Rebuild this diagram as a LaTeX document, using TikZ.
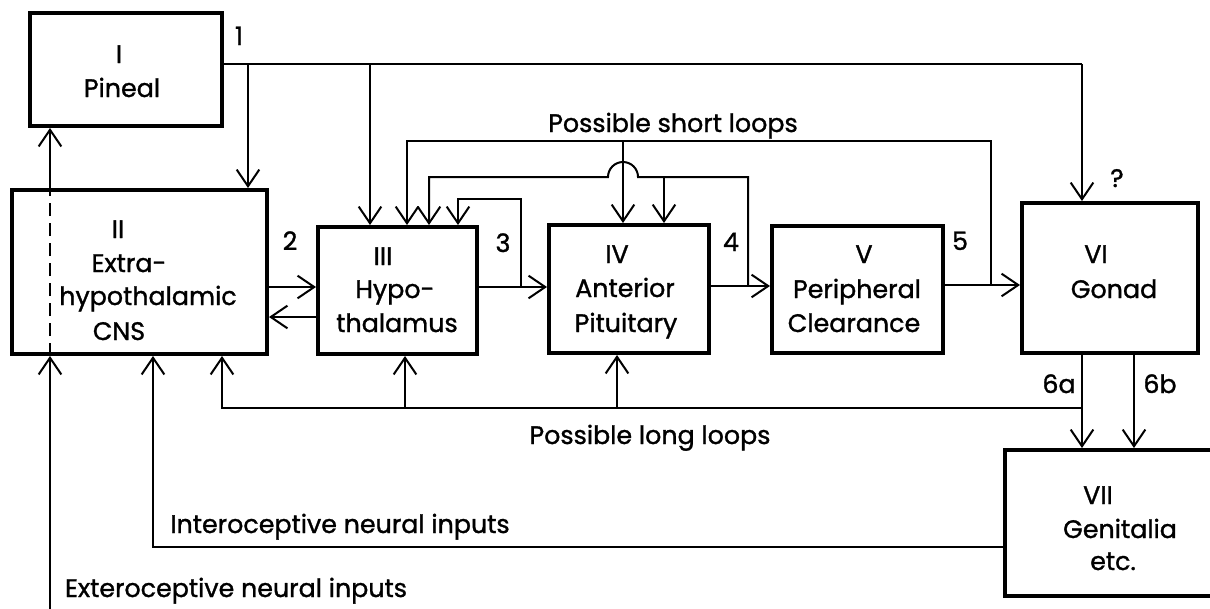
\documentclass[tikz,border=0pt]{standalone}
\usepackage{fontspec}
\setmainfont{Poppins}[FakeBold=1.2]
\usetikzlibrary{arrows.meta}
\begin{document}
\begin{tikzpicture}[x=0.75pt,y=-0.75pt,
  box/.style={draw, line width=3pt, inner sep=0pt},
  conn/.style={line width=1.5pt},
  arr/.style={conn, -{Straight Barb[length=12.5pt,width=17pt]}},
  lbl/.style={font=\fontsize{19}{21}\selectfont, inner sep=0pt, anchor=base}]
\useasboundingbox (0,0) rectangle (1210,608);
\clip (0,0) rectangle (1210,608);
% boxes
\node[box, minimum width=144pt, minimum height=84.75pt] (P) at (126,69.5) {};
\node[box, minimum width=191.25pt, minimum height=123pt] (II) at (139.5,272) {};
\node[box, minimum width=119.25pt, minimum height=95.25pt] (III) at (397.5,290.5) {};
\node[box, minimum width=120pt, minimum height=96pt] (IV) at (629,289) {};
\node[box, minimum width=128.25pt, minimum height=95.25pt] (V) at (857.5,289.5) {};
\node[box, minimum width=132pt, minimum height=112.5pt] (VI) at (1110,278) {};
\node[box, minimum width=158.25pt, minimum height=109.5pt] (VII) at (1110.5,523) {};
% box texts
\node[lbl] (tPa) at (119,63) {I};
\node[lbl] (tPb) at (122,97) {Pineal};
\node[lbl] (tIIa) at (118,238) {II};
\node[lbl] (tIIb) at (129,272) {Extra-};
\node[lbl] (tIIc) at (148,305) {hypothalamic};
\node[lbl] (tIId) at (119,340) {CNS};
\node[lbl] (tIIIa) at (383,265) {III};
\node[lbl] (tIIIb) at (395,298) {Hypo-};
\node[lbl] (tIIIc) at (397,332) {thalamus};
\node[lbl] (tIVa) at (617,263) {IV};
\node[lbl] (tIVb) at (625,297) {Anterior};
\node[lbl] (tIVc) at (626,332) {Pituitary};
\node[lbl] (tVa) at (864,263) {V};
\node[lbl] (tVb) at (857,298) {Peripheral};
\node[lbl] (tVc) at (854,332) {Clearance};
\node[lbl] (tVIa) at (1096,263) {VI};
\node[lbl] (tVIb) at (1114,298) {Gonad};
\node[lbl] (tVIIa) at (1098,504) {VII};
\node[lbl] (tVIIb) at (1120,538) {Genitalia};
\node[lbl] (tVIIc) at (1113,570) {etc.};
% numbers and labels
\node[lbl] (n1) at (239,45) {1};
\node[lbl] (n2) at (290,250) {2};
\node[lbl] (n3) at (503,252) {3};
\node[lbl] (n4) at (731,251) {4};
\node[lbl] (n5) at (960,250) {5};
\node[lbl] (nq) at (1117,187) {?};
\node[lbl] (n6a) at (1059,393) {6a};
\node[lbl] (n6b) at (1160,393) {6b};
\node[lbl] (short) at (673,132) {Possible short loops};
\node[lbl] (long) at (650,444) {Possible long loops};
\node[lbl] (intero) at (340,533) {Interoceptive neural inputs};
\node[lbl] (extero) at (236,597) {Exteroceptive neural inputs};
% coordinates
\coordinate (yP) at (0,64);
\coordinate (b1) at (248,64);
\coordinate (b2) at (370,64);
\coordinate (b3) at (1082,64);
\coordinate (y2a) at (0,287);
\coordinate (y2b) at (0,317);
\coordinate (s3) at (521,287);
\coordinate (s4) at (748,286);
\coordinate (s5) at (991,285);
\coordinate (o2) at (407,141);
\coordinate (o3) at (623,141);
\coordinate (m1) at (748,177);
\coordinate (mh) at (638,177);
\coordinate (m2) at (429,177);
\coordinate (m3) at (664,177);
\coordinate (i1) at (458,199);
\coordinate (x6b) at (1134,0);
\coordinate (l0) at (1082,408);
\coordinate (l1) at (222,408);
\coordinate (l2) at (405,408);
\coordinate (l3) at (617,408);
\coordinate (nI) at (153,547);
\coordinate (e0) at (50,615);
% pineal outputs
\draw[conn] (P.east |- yP) -- (b3);
\draw[arr] (b3) -- (VI.north -| b3);
\draw[arr] (b1) -- (II.north -| b1);
\draw[arr] (b2) -- (III.north -| b2);
% main chain
\draw[arr] (II.east |- y2a) -- (III.west |- y2a);
\draw[arr] (III.west |- y2b) -- (II.east |- y2b);
\draw[arr] (III.east |- s3) -- (IV.west |- s3);
\draw[arr] (IV.east |- s4) -- (V.west |- s4);
\draw[arr] (V.east |- s5) -- (VI.west |- s5);
% short loops
\draw[arr] (s5) |- (o2) -- (III.north -| o2);
\draw[arr] (o3) -- (IV.north -| o3);
\draw[arr] (s4) -- (m1) -- (mh) arc[start angle=0, end angle=-180, radius=15] -- (m2) -- (III.north -| m2);
\draw[arr] (m3) -- (IV.north -| m3);
\draw[arr] (s3) |- (i1) -- (III.north -| i1);
% gonad outputs
\draw[arr] (VI.south -| b3) -- (VII.north -| b3);
\draw[arr] (VI.south -| x6b) -- (VII.north -| x6b);
% long loops
\draw[arr] (l0) -- (l1) -- (II.south -| l1);
\draw[arr] (l2) -- (III.south -| l2);
\draw[arr] (l3) -- (IV.south -| l3);
% neural inputs
\draw[arr] (VII.west |- nI) -| (II.south -| nI);
\draw[arr] (e0) -- (II.south -| e0);
\draw[conn, dash pattern=on 10pt off 5pt] (II.south -| e0) -- (II.north -| e0);
\draw[arr] (II.north -| e0) -- (P.south -| e0);
\end{tikzpicture}
\end{document}
